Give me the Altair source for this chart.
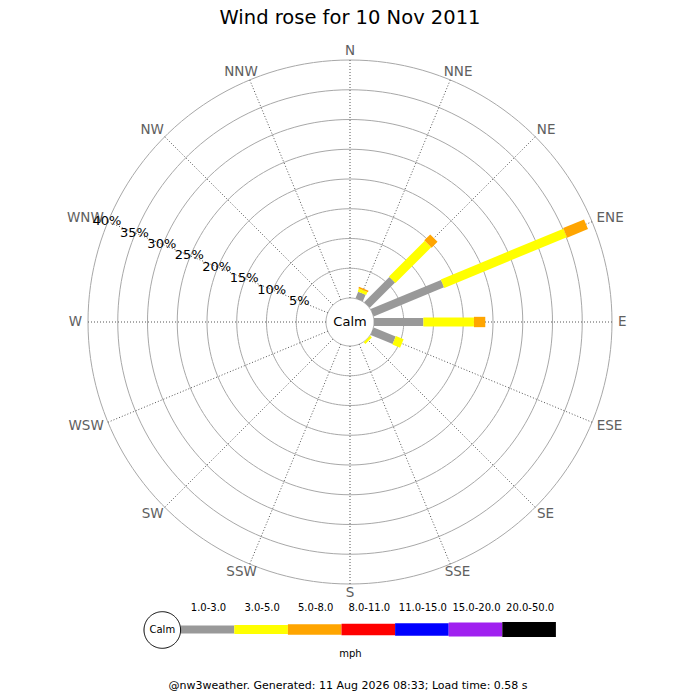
import altair as alt
import pandas as pd
import numpy as np

# ---------------- data ----------------
directions = ["N", "NNE", "NE", "ENE", "E", "ESE", "SE", "SSE",
              "S", "SSW", "SW", "WSW", "W", "WNW", "NW", "NNW"]
speed_bins = ["1.0-3.0", "3.0-5.0", "5.0-8.0", "8.0-11.0",
              "11.0-15.0", "15.0-20.0", "20.0-50.0"]
bin_colors = ["#999999", "#ffff00", "#ffa500", "#ff0000",
              "#0000ff", "#a020f0", "#000000"]
bin_widths = [8, 15, 20, 23, 25, 27, 29]

# percentage of time per direction, per speed bin (mph)
pct_1_3 = [0, 1.2, 6.0, 12.8, 8.3, 4.0, 0, 0, 0, 0, 0, 0, 0, 0, 0, 0]
pct_3_5 = [0, 0.55, 8.5, 22.3, 8.5, 1.4, 0.4, 0, 0, 0, 0, 0, 0, 0, 0, 0]
pct_5_8 = [0, 0.25, 1.4, 3.8, 1.9, 0, 0, 0, 0, 0, 0, 0, 0, 0, 0, 0]
pct_8_11 = [0] * 16
pct_11_15 = [0] * 16
pct_15_20 = [0] * 16
pct_20_50 = [0] * 16
series = [pct_1_3, pct_3_5, pct_5_8, pct_8_11, pct_11_15, pct_15_20, pct_20_50]

ring_ticks = [5, 10, 15, 20, 25, 30, 35, 40]
title_text = "Wind rose for 10 Nov 2011"
footer_text = "@nw3weather. Generated: 11 Aug 2026 08:33; Load time: 0.58 s"

# ---------------- layout ----------------
S = 5.95            # pixels per percent
CX, CY = 350, 322   # page centre of the rose
CALM_R = 24 / S     # calm circle radius, in percent units
FONT = "DejaVu Sans"
DIR_FS = 13.5
CHAR_W = {"N": 0.748, "E": 0.632, "S": 0.635, "W": 0.989}


def u(px, py):
    return (px - CX) / S, (CY - py) / S


xs = alt.Scale(domain=[(8 - CX) / S, (692 - CX) / S], nice=False, zero=False)
ys = alt.Scale(domain=[(CY - 692) / S, (CY - 8) / S], nice=False, zero=False)


def X(f="x"):
    return alt.X(f"{f}:Q", scale=xs, axis=None)


def Y(f="y"):
    return alt.Y(f"{f}:Q", scale=ys, axis=None)


def polar(r, deg):
    t = np.radians(deg)
    return r * np.sin(t), r * np.cos(t)


# rings (grid circles) + calm circle
rows = []
for k, p in enumerate([0] + ring_ticks):
    r = CALM_R + p
    for i, a in enumerate(range(0, 361, 2)):
        x, y = polar(r, a)
        rows.append({"ring": k, "i": i, "x": x, "y": y})
rings = alt.Chart(pd.DataFrame(rows)).mark_line(color="#a8a8a8", strokeWidth=1).encode(
    x=X(), y=Y(), detail="ring:N", order="i:Q")

# radial spokes
rows = []
for i, d in enumerate(directions):
    x1, y1 = polar(CALM_R, i * 22.5)
    x2, y2 = polar(CALM_R + ring_ticks[-1], i * 22.5)
    rows.append({"x": x1, "y": y1, "x2": x2, "y2": y2})
spokes = alt.Chart(pd.DataFrame(rows)).mark_rule(
    color="#555555", strokeWidth=1, strokeDash=[1, 2]).encode(
    x=X(), y=Y(), x2="x2:Q", y2="y2:Q")

# bars
rows = []
order = 0
for i, d in enumerate(directions):
    r0 = CALM_R
    for b, s in zip(speed_bins, series):
        v = s[i]
        if v > 0:
            x1, y1 = polar(r0, i * 22.5)
            x2, y2 = polar(r0 + v, i * 22.5)
            rows.append({"dir": d, "bin": b, "x": x1, "y": y1,
                         "x2": x2, "y2": y2, "o": order})
            order += 1
            r0 += v
bars_df = pd.DataFrame(rows)

color_scale = alt.Scale(domain=speed_bins, range=bin_colors)
width_scale = alt.Scale(domain=speed_bins, range=bin_widths)

bars = alt.Chart(bars_df).mark_rule(strokeCap="butt").encode(
    x=X(), y=Y(), x2="x2:Q", y2="y2:Q",
    color=alt.Color("bin:N", scale=color_scale, legend=None),
    strokeWidth=alt.StrokeWidth("bin:N", scale=width_scale, legend=None),
    order="o:Q")

# direction labels: text box placed just outside the outer ring
rows = []
LABEL_R = 268 / S
LABEL_H = 6
for i, d in enumerate(directions):
    t = np.radians(i * 22.5)
    px, py = polar(LABEL_R, i * 22.5)
    w = sum(CHAR_W[c] for c in d) * DIR_FS
    px += (w / 2) * np.sin(t) / S
    py += (LABEL_H / 2) * np.cos(t) / S
    rows.append({"x": px, "y": py, "t": d})
dir_labels = alt.Chart(pd.DataFrame(rows)).mark_text(
    font=FONT, fontSize=DIR_FS, color="#606060", baseline="middle", align="center").encode(
    x=X(), y=Y(), text="t:N")

# percentage labels along WNW
rows = []
for p in ring_ticks:
    x, y = polar(CALM_R + p + 0.2, 292.5)
    rows.append({"x": x, "y": y, "t": f"{p}%"})
pct_labels = alt.Chart(pd.DataFrame(rows)).mark_text(
    font=FONT, fontSize=13, color="#000000", baseline="middle", align="center").encode(
    x=X(), y=Y(), text="t:N")

# misc text
tx, ty = u(350, 23.5)
title = alt.Chart(pd.DataFrame([{"x": tx, "y": ty, "t": title_text}])).mark_text(
    font=FONT, fontSize=19.5, color="#000000", baseline="alphabetic", align="center").encode(
    x=X(), y=Y(), text="t:N")

cx_, cy_ = u(350, 322)
mx, my = u(350.5, 654)
fx, fy = u(348, 686)
texts_df = pd.DataFrame([
    {"x": cx_, "y": cy_, "t": "Calm", "s": 13},
    {"x": mx, "y": my, "t": "mph", "s": 10},
    {"x": fx, "y": fy, "t": footer_text, "s": 11},
])
texts = alt.Chart(texts_df).mark_text(
    font=FONT, color="#000000", baseline="middle", align="center").encode(
    x=X(), y=Y(), text="t:N", size=alt.Size("s:Q", scale=None, legend=None))

# legend
LX0, LSTEP, LY, LTY = 180.7, 53.6, 629.5, 607.5
rows = []
for k, b in enumerate(speed_bins):
    x1, y1 = u(LX0 + k * LSTEP, LY)
    x2, _ = u(LX0 + (k + 1) * LSTEP, LY)
    lx, ly = u(LX0 + (k + 0.5) * LSTEP + 1, LTY)
    rows.append({"bin": b, "x": x1, "y": y1, "x2": x2, "y2": y1, "lx": lx, "ly": ly})
leg_df = pd.DataFrame(rows)
leg_bars = alt.Chart(leg_df).mark_rule(strokeCap="butt").encode(
    x=X(), y=Y(), x2="x2:Q", y2="y2:Q",
    color=alt.Color("bin:N", scale=color_scale, legend=None),
    strokeWidth=alt.StrokeWidth("bin:N", scale=width_scale, legend=None))
leg_text = alt.Chart(leg_df).mark_text(
    font=FONT, fontSize=10, color="#000000", baseline="middle", align="center").encode(
    x=X("lx"), y=Y("ly"), text="bin:N")

lcx, lcy = u(162.3, 630)
rows = []
for i, a in enumerate(range(0, 361, 3)):
    x, y = polar(18.3 / S, a)
    rows.append({"i": i, "x": lcx + x, "y": lcy + y})
leg_circle = alt.Chart(pd.DataFrame(rows)).mark_line(
    color="#000000", strokeWidth=1).encode(x=X(), y=Y(), order="i:Q")
leg_calm = alt.Chart(pd.DataFrame([{"x": lcx, "y": lcy, "t": "Calm"}])).mark_text(
    font=FONT, fontSize=10, color="#000000", baseline="middle", align="center").encode(
    x=X(), y=Y(), text="t:N")

chart = alt.layer(
    rings, spokes, bars, dir_labels, pct_labels, title, texts,
    leg_bars, leg_text, leg_circle, leg_calm
).properties(
    width=684, height=684, padding=0, autosize="none", background="white"
).configure_view(stroke=None)

chart.save("out.html", embed_options={"renderer": "svg", "actions": False})
